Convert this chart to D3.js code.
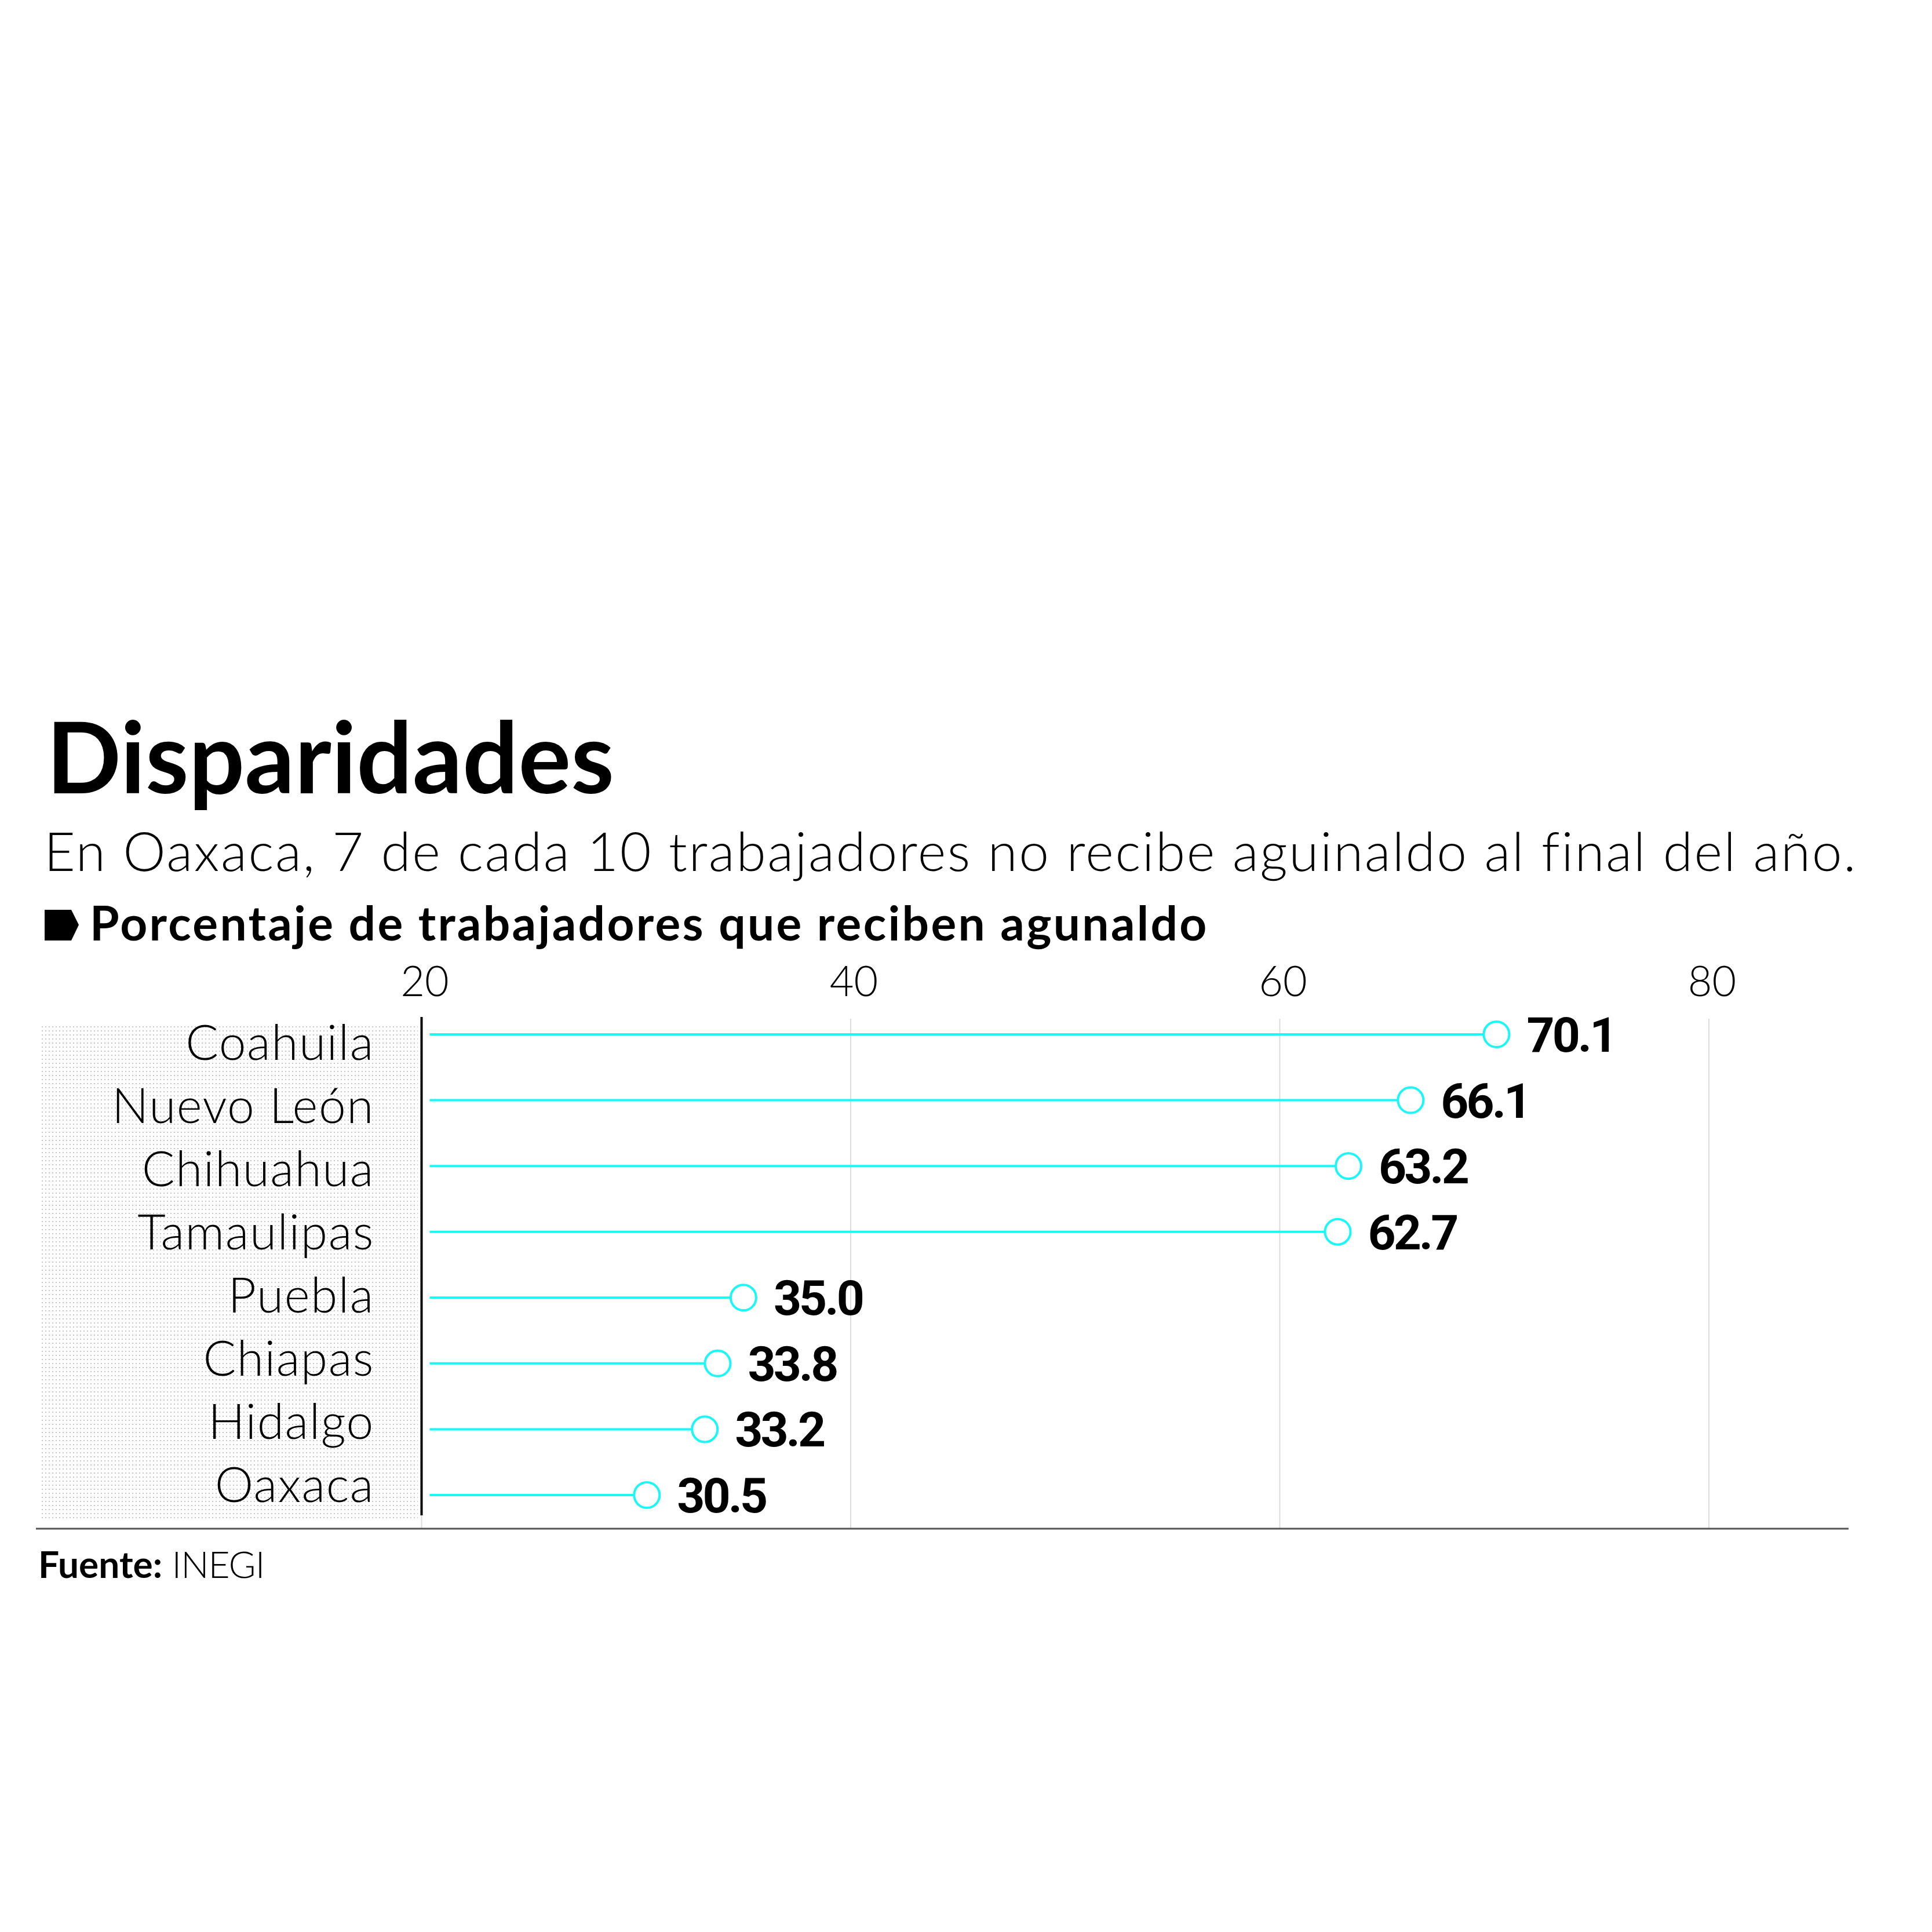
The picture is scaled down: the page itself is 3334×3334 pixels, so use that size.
<!DOCTYPE html>
<html>
<head>
<meta charset="utf-8">
<script src="https://cdn.jsdelivr.net/npm/d3@7"></script>
<style>
  html, body { margin: 0; padding: 0; background: #fff; }
  svg { display: block; }
</style>
</head>
<body>
<script>
const categories = ["Coahuila", "Nuevo León", "Chihuahua", "Tamaulipas", "Puebla", "Chiapas", "Hidalgo", "Oaxaca"];
const values = [70.1, 66.1, 63.2, 62.7, 35.0, 33.8, 33.2, 30.5];
const tickValues = [20, 40, 60, 80];
const title = "Disparidades";
const subtitle = "En Oaxaca, 7 de cada 10 trabajadores no recibe aguinaldo al final del año.";
const legendLabel = "Porcentaje de trabajadores que reciben agunaldo";
const sourceLabel = "Fuente:";
const sourceName = "INEGI";

const W = 3334, H = 3334;
const CYAN = "#19f7f7";

const svg = d3.select("body").append("svg")
  .attr("width", W).attr("height", H)
  .attr("viewBox", `0 0 ${W} ${H}`);

const defs = svg.append("defs");
const pat = defs.append("pattern").attr("id", "dots")
  .attr("width", 6).attr("height", 7).attr("patternUnits", "userSpaceOnUse");
pat.append("rect").attr("width", 2).attr("height", 2).attr("fill", "#c6c6c6");

// Scales
const x = d3.scaleLinear().domain([20, 80]).range([727.5, 2949]);
const y = d3.scalePoint().domain(categories).range([1785, 2580]);
const yLab = d3.scalePoint().domain(categories).range([1829, 2592]);

// Title block
svg.append("text").attr("x", 80).attr("y", 1369)
  .attr("font-family", "Lato, sans-serif").attr("font-weight", 700)
  .attr("font-size", 170).attr("letter-spacing", 0).attr("fill", "#000")
  .text(title);

svg.append("text").attr("x", 76).attr("y", 1503)
  .attr("font-family", "Lato, sans-serif").attr("font-weight", 300)
  .attr("font-size", 93).attr("letter-spacing", 2.55).attr("fill", "#000")
  .text(subtitle);

// Legend marker
svg.append("path")
  .attr("d", d3.line()([[77, 1570], [123, 1570], [136, 1596], [123, 1623], [77, 1623]]) + "Z")
  .attr("fill", "#000");
svg.append("text").attr("x", 155).attr("y", 1623)
  .attr("font-family", "Lato, sans-serif").attr("font-weight", 700)
  .attr("font-size", 82).attr("letter-spacing", 3.3).attr("fill", "#000")
  .text(legendLabel);

// Dotted label background
svg.append("rect").attr("x", 69).attr("y", 1769)
  .attr("width", 652).attr("height", 856)
  .attr("fill", "url(#dots)");

// Gridlines
svg.append("g").selectAll("line").data(tickValues).join("line")
  .attr("x1", d => x(d)).attr("x2", d => x(d))
  .attr("y1", 1758).attr("y2", 2638)
  .attr("stroke", "#dcdcdc").attr("stroke-width", 2);

// Axis tick labels (top)
const axis = d3.axisTop(x).tickValues(tickValues).tickSize(0).tickPadding(0)
  .tickFormat(d3.format("d"));
const gAxis = svg.append("g").attr("transform", "translate(5,1719)").call(axis);
gAxis.select(".domain").remove();
gAxis.selectAll("text")
  .attr("font-family", "Lato, sans-serif").attr("font-weight", 300)
  .attr("font-size", 72).attr("fill", "#000").attr("dy", 0);

// Black baseline axis at 20
svg.append("line")
  .attr("x1", x(20)).attr("x2", x(20))
  .attr("y1", 1755).attr("y2", 2615)
  .attr("stroke", "#000").attr("stroke-width", 4);

// Bottom rule
svg.append("line")
  .attr("x1", 62).attr("x2", 3190)
  .attr("y1", 2638).attr("y2", 2638)
  .attr("stroke", "#555").attr("stroke-width", 3);

// Category labels
svg.append("g").selectAll("text").data(categories).join("text")
  .attr("x", 646).attr("y", d => yLab(d))
  .attr("text-anchor", "end")
  .attr("font-family", "Lato, sans-serif").attr("font-weight", 300)
  .attr("font-size", 84).attr("letter-spacing", 1.5).attr("fill", "#000")
  .text(d => d);

const rows = categories.map((c, i) => ({ cat: c, val: values[i] }));
const r = 22;

// Stems
svg.append("g").selectAll("line").data(rows).join("line")
  .attr("x1", x(20) + 14).attr("x2", d => x(d.val) - r)
  .attr("y1", d => y(d.cat)).attr("y2", d => y(d.cat))
  .attr("stroke", CYAN).attr("stroke-width", 4);

// Circles
svg.append("g").selectAll("circle").data(rows).join("circle")
  .attr("cx", d => x(d.val)).attr("cy", d => y(d.cat)).attr("r", r)
  .attr("fill", "#fff").attr("stroke", CYAN).attr("stroke-width", 4);

// Value labels
svg.append("g").selectAll("text").data(rows).join("text")
  .attr("x", d => x(d.val) + 52).attr("y", d => y(d.cat) + 30)
  .attr("font-family", "Roboto, sans-serif").attr("font-weight", 700)
  .attr("font-size", 84).attr("letter-spacing", -4).attr("fill", "#000")
  .text(d => d3.format(".1f")(d.val));

// Source
const src = svg.append("text").attr("x", 66).attr("y", 2723)
  .attr("font-family", "Lato, sans-serif").attr("font-size", 64).attr("fill", "#000");
src.append("tspan").attr("font-weight", 700).text(sourceLabel);
src.append("tspan").attr("font-weight", 300).attr("letter-spacing", -1).text(" " + sourceName);
</script>
</body>
</html>
